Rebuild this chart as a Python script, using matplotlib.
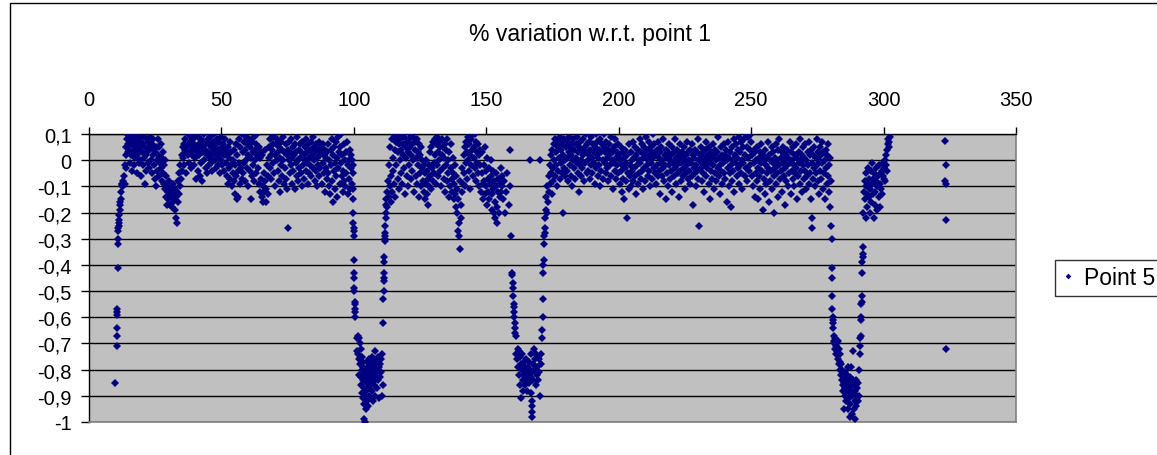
import numpy as np
import matplotlib
matplotlib.use("Agg")
from matplotlib import pyplot as plt
from matplotlib.patches import Rectangle

plt.rcParams['font.family'] = ['Liberation Sans', 'DejaVu Sans']

# ---- data (x, % variation) ----
dip1 = [(9.8,-0.85),(10.4,-0.71),(10.4,-0.67),(10.5,-0.64),(10.5,-0.59),(10.6,-0.58),(10.7,-0.57),(10.9,-0.41),
        (11.0,-0.32),(11.0,-0.30),(11.1,-0.27),(11.1,-0.26),(11.2,-0.25),(11.3,-0.24),(11.4,-0.23),(11.5,-0.21),
        (11.6,-0.19),(11.7,-0.17),(11.8,-0.16),(12.0,-0.15),(12.1,-0.12),(12.3,-0.10),(12.4,-0.09),(12.6,-0.09),
        (12.8,-0.08),(13.0,-0.10),(13.1,-0.09)]

band1 = [(13.3,-0.06),(13.5,-0.02),(13.6,-0.09),(13.8,0.02),(14.0,0.05),(14.1,-0.03),(14.3,0.08),(14.5,0.1),(14.6,0.06),(14.8,0.03),
    (15.0,0.09),(15.2,0.04),(15.3,-0.01),(15.5,0.07),(15.7,0.1),(15.9,0.02),(16.0,0.06),(16.2,-0.04),(16.4,0.08),(16.5,0.03),
    (16.7,0.09),(16.9,0.05),(17.0,-0.02),(17.2,0.07),(17.4,0.01),(17.6,0.1),(17.8,0.04),(18.0,-0.05),(18.1,0.06),(18.3,0.02),
    (18.5,0.08),(18.7,-0.01),(18.9,0.05),(19.0,0.09),(19.2,0.0),(19.4,0.04),(19.6,-0.06),(19.8,0.07),(20.0,0.03),(20.2,-0.02),
    (20.4,0.06),(20.6,0.09),(20.8,0.01),(21.0,-0.09),(21.2,0.05),(21.4,0.02),(21.6,-0.04),(21.8,0.08),(22.0,0.03),(22.2,-0.01),
    (22.4,0.07),(22.6,0.04),(22.8,-0.03),(23.0,0.09),(23.2,0.05),(23.4,0.0),(23.6,-0.05),(23.8,0.06),(24.0,0.02),(24.2,0.08),
    (24.4,-0.02),(24.6,0.04),(24.8,-0.07),
    (25.0,0.03),(25.2,-0.1),(25.4,0.05),(25.6,0.0),(25.8,-0.04),(26.0,0.08),(26.2,0.02),(26.4,-0.06),(26.6,0.05),(26.8,-0.01),
    (27.0,0.06),(27.2,-0.03),(27.4,0.01),(27.6,-0.08),(27.8,0.03),
    (28.0,-0.05),(28.2,-0.02),(28.4,-0.09),(28.6,0.0),(28.8,-0.11),(29.0,-0.06),(29.2,-0.14),(29.4,-0.17),(29.6,-0.1),(29.8,-0.12),
    (30.0,-0.15),(30.2,-0.08),(30.4,-0.13),(30.6,-0.17),(30.8,-0.11),(31.0,-0.14),(31.2,-0.18),(31.4,-0.12),(31.6,-0.16),(31.8,-0.09),
    (32.0,-0.13),(32.2,-0.15),(32.4,-0.11),(32.6,-0.19),(32.8,-0.14),(33.0,-0.22),(33.1,-0.24),(33.3,-0.12),(33.5,-0.16),(33.7,-0.08),
    (33.9,-0.13),(34.1,-0.05),(34.3,-0.1),(34.5,-0.02),(34.7,-0.07),
    (35.0,0.02),(35.2,-0.04),(35.4,0.05),(35.6,0.01),(35.8,0.06),(36.0,-0.02),(36.2,0.04),(36.4,0.08),(36.6,0.03),(36.8,-0.05),
    (37.0,0.05),(37.2,0.1),(37.4,0.02),(37.6,0.06),(37.8,-0.01),(38.0,0.07),(38.2,0.03),(38.4,0.09),(38.6,-0.03),(38.8,0.05),
    (39.0,0.02),(39.2,0.08),(39.4,0.04),(39.6,-0.02),(39.8,0.06),(40.0,0.1),(40.2,0.01),(40.4,-0.07),(40.6,0.05),(40.8,0.03),
    (41.0,0.09),(41.2,-0.04),(41.4,0.06),(41.6,0.02),(41.8,-0.06),(42.0,0.04),(42.2,0.08),(42.4,-0.01),(42.6,0.05),(42.8,-0.08),
    (43.0,0.03),(43.2,0.07),(43.4,0.0),(43.6,0.1),(43.8,0.04),(44.0,-0.03),(44.2,0.06),(44.4,0.02),(44.6,-0.05),(44.8,0.08),
    (45.0,0.03),(45.2,-0.02),(45.4,0.06),(45.6,0.01),(45.8,0.09),(46.0,-0.01),(46.2,0.05),(46.4,0.02),(46.6,-0.04),(46.8,0.07),
    (47.0,0.03),(47.2,0.1),(47.4,0.0),(47.6,0.05),(47.8,-0.03),(48.0,0.06),(48.2,0.02),(48.4,0.08),(48.6,-0.02),(48.8,0.04),
    (49.0,0.01),(49.2,0.07),(49.4,-0.05),(49.6,0.03),(49.8,0.09),(50.0,0.0),(50.2,0.05),(50.4,-0.02),(50.6,0.06),(50.8,0.02),
    (51.0,-0.04),(51.2,0.04),(51.4,0.08),(51.6,-0.01),(51.8,0.03),
    (52.0,-0.06),(52.2,0.02),(52.4,-0.09),(52.6,0.05),(52.8,-0.03),(53.0,0.01),(53.2,-0.07),(53.4,0.07),(53.6,-0.02),(53.8,0.03),
    (54.0,-0.1),(54.2,0.0),(54.4,-0.05),(54.6,0.04),(54.8,-0.08),(55.0,-0.13),(55.2,-0.02),(55.4,0.06),(55.6,-0.06),(55.8,-0.15),
    (56.0,0.02),(56.2,-0.04),(56.4,-0.14),(56.6,0.08),(56.8,-0.01),(57.0,-0.09),(57.2,0.05),(57.4,-0.03),(57.6,0.1),(57.8,-0.07),
    (58.0,0.03),(58.2,-0.05),(58.4,0.07),(58.6,-0.01),(58.8,0.04),(59.0,-0.08),(59.2,0.09),(59.4,0.0),(59.6,-0.03),(59.8,0.06),
    (60.0,-0.1),(60.2,0.02),(60.4,0.08),(60.6,-0.04),(60.8,0.05),(61.0,-0.15),(61.2,0.01),(61.4,0.07),(61.6,-0.06),(61.8,0.03),
    (62.0,-0.02),(62.2,0.09),(62.4,-0.08),(62.6,0.04),(62.8,0.0),(63.0,0.06),(63.2,-0.05),(63.4,0.02),(63.6,0.1),(63.8,-0.03),
    (64.0,0.05),(64.2,-0.09),(64.4,0.01),(64.6,-0.12),(64.8,0.03),(65.0,-0.07),(65.2,-0.14),(65.4,0.02),(65.6,-0.1),(65.8,-0.16),
    (66.0,-0.05),(66.2,-0.12),(66.4,0.04),(66.6,-0.08),(66.8,-0.16),(67.0,-0.11),(67.2,-0.02),(67.4,-0.13),(67.6,-0.06),(67.8,0.01),
    (68.0,0.05),(68.2,-0.03),(68.4,0.08),(68.6,-0.07),(68.8,0.02),(69.0,0.1),(69.2,0.04),(69.4,-0.01),(69.6,0.06),(69.8,-0.05),
    (70.0,0.09),(70.2,0.02),(70.4,-0.1),(70.6,0.06),(70.8,0.0),(71.0,0.08),(71.2,-0.04),(71.4,0.03),(71.6,-0.08),(71.8,0.05),
    (72.0,0.01),(72.2,-0.12),(72.4,0.07),(72.6,-0.02),(72.8,0.04),(73.0,-0.06),(73.2,0.09),(73.4,0.0),(73.6,-0.09),(73.8,0.03),
    (74.0,-0.03),(74.2,0.06),(74.4,-0.07),(74.6,0.02),(74.8,-0.11),(75.2,-0.26),
    (75.0,0.04),(75.4,0.0),(75.6,0.07),(75.8,-0.05),(76.0,0.03),(76.2,-0.02),(76.4,0.08),(76.6,-0.09),(76.8,0.01),(77.0,0.05),
    (77.2,-0.04),(77.4,0.02),(77.6,-0.11),(77.8,0.06),(78.0,-0.01),(78.2,0.03),(78.4,-0.06),(78.6,0.09),(78.8,0.0),(79.0,-0.08),
    (79.2,0.04),(79.4,-0.03),(79.6,0.06),(79.8,0.01),(80.0,-0.05),(80.2,0.03),(80.4,-0.1),(80.6,0.07),(80.8,-0.02),(81.0,0.02),
    (81.2,-0.07),(81.4,0.05),(81.6,0.0),(81.8,-0.04),(82.0,0.08),(82.2,-0.01),(82.4,0.03),(82.6,-0.09),(82.8,0.06),(83.0,0.01),
    (83.2,-0.05),(83.4,0.04),(83.6,-0.02),(83.8,0.07),(84.0,-0.06),(84.2,0.02),(84.4,0.09),(84.6,-0.03),(84.8,0.05),(85.0,0.0),
    (85.2,-0.08),(85.4,0.03),(85.6,-0.04),(85.8,0.06),(86.0,0.01),(86.2,-0.1),(86.4,0.04),(86.6,-0.02),(86.8,0.07),(87.0,-0.06),
    (87.2,0.02),(87.4,-0.03),(87.6,0.05),(87.8,-0.09),(88.0,0.03),(88.2,-0.01),(88.4,0.06),(88.6,-0.05),(88.8,0.02),(89.0,-0.12),
    (89.2,0.04),(89.4,-0.03),(89.6,0.01),(89.8,-0.07),
    (90.0,0.03),(90.2,-0.05),(90.4,0.06),(90.6,-0.1),(90.8,0.0),(91.0,-0.13),(91.2,0.04),(91.4,-0.02),(91.6,0.08),(91.8,-0.08),
    (92.0,0.02),(92.2,-0.16),(92.4,-0.04),(92.6,0.05),(92.8,-0.01),(93.0,-0.11),(93.2,0.07),(93.4,-0.06),(93.6,0.01),(93.8,-0.14),
    (94.0,0.09),(94.2,-0.03),(94.4,0.03),(94.6,-0.09),(94.8,0.05),(95.0,-0.01),(95.2,0.1),(95.4,-0.06),(95.6,0.02),(95.8,-0.12),
    (96.0,-0.04),(96.2,0.06),(96.4,-0.08),(96.6,0.0),(96.8,-0.1),(97.0,0.03),(97.2,-0.05),(97.4,0.07),(97.6,-0.02),(97.8,-0.13),
    (98.0,0.0),(98.2,-0.07),(98.4,0.04),(98.6,-0.11),(98.8,-0.03),(99.0,0.02),(99.2,-0.09),(99.4,0.0),(99.6,-0.05),(99.8,-0.02)]

drop2 = [(99.6,-0.11),(99.7,-0.15),(99.8,-0.2),(99.8,-0.24),(99.9,-0.26),(99.9,-0.27),(100.0,-0.29),(100.0,-0.38),
    (100.1,-0.43),(100.1,-0.45),(100.2,-0.49),(100.2,-0.5),(100.3,-0.54),(100.3,-0.55),(100.4,-0.57),(100.4,-0.58),(100.5,-0.6),
    (101.0,-0.68),(101.3,-0.73),(101.5,-0.67),(101.7,-0.74),(101.9,-0.68),(102.1,-0.76),(102.0,-0.82),(102.3,-0.7),(102.4,-0.78),(102.6,-0.83),
    (102.7,-0.72),(102.8,-0.86),(102.9,-0.75),(103.0,-0.8),(103.1,-0.89),(103.2,-0.82),(103.3,-0.77),(103.4,-0.91),(103.5,-0.84),(103.6,-0.79),
    (103.7,-0.93),(103.8,-0.87),(103.9,-0.82),(104.0,-0.99),(104.1,-0.9),(104.2,-0.84),(104.3,-1.0),(104.4,-0.95),(104.5,-0.81),(104.6,-0.88),
    (104.7,-0.83),(104.8,-0.92),(104.9,-0.77),(105.0,-0.85),(105.1,-0.8),(105.2,-0.94),(105.3,-0.83),(105.4,-0.79),(105.5,-0.87),(105.6,-0.82),
    (105.7,-0.76),(105.8,-0.9),(105.9,-0.84),(106.0,-0.8),(106.1,-0.86),(106.2,-0.77),(106.3,-0.83),(106.4,-0.91),(106.5,-0.79),(106.6,-0.85),
    (106.7,-0.82),(106.8,-0.75),(106.9,-0.88),(107.0,-0.8),(107.1,-0.84),(107.2,-0.92),(107.3,-0.78),(107.4,-0.82),(107.5,-0.86),(107.6,-0.76),
    (107.7,-0.81),(107.8,-0.9),(107.9,-0.84),(108.0,-0.79),(108.1,-0.73),(108.2,-0.83),(108.4,-0.77),(108.6,-0.87),(108.8,-0.81),(109.0,-0.75),
    (109.2,-0.84),(109.4,-0.79),(109.6,-0.91),(109.8,-0.78),(110.0,-0.83),(110.2,-0.76),(110.4,-0.81),(110.6,-0.9),(110.8,-0.74),(110.9,-0.86),
    (111.0,-0.62),(111.1,-0.53),(111.2,-0.5),(111.3,-0.46),(111.3,-0.45),(111.4,-0.43),(111.5,-0.39),(111.5,-0.37),(111.6,-0.31),
    (111.7,-0.3),(111.7,-0.29),(111.8,-0.28),(111.9,-0.25),(112.0,-0.22),(112.1,-0.2),(112.2,-0.17),(112.3,-0.15)]

band2 = [(112.5,-0.12),(112.7,-0.18),(112.9,-0.08),(113.1,-0.14),(113.3,-0.02),(113.5,-0.1),(113.7,0.05),(113.9,-0.16),(114.1,-0.06),(114.3,0.08),
    (114.5,-0.12),(114.7,0.01),(114.9,-0.04),(115.1,0.1),(115.3,-0.09),(115.5,0.04),(115.7,-0.14),(115.9,0.07),(116.1,-0.02),(116.3,0.09),
    (116.5,-0.07),(116.7,0.03),(116.9,0.06),(117.1,-0.11),(117.3,0.0),(117.5,0.08),(117.7,-0.05),(117.9,0.04),(118.1,0.1),(118.3,-0.09),
    (118.5,0.02),(118.7,0.06),(118.9,-0.03),(119.1,0.09),(119.3,-0.13),(119.5,0.05),(119.7,0.01),(119.9,-0.06),(120.1,0.07),(120.3,0.03),
    (120.5,-0.1),(120.7,0.08),(120.9,-0.02),(121.1,0.05),(121.3,0.1),(121.5,-0.07),(121.7,0.02),(121.9,0.06),(122.1,-0.04),(122.3,0.09),
    (122.5,0.0),(122.7,-0.12),(122.9,0.04),(123.1,0.07),(123.3,-0.06),(123.5,0.01),(123.7,0.08),(123.9,-0.09),(124.1,0.03),(124.3,-0.02),
    (124.5,0.06),(124.7,-0.14),(124.9,0.02),(125.1,-0.05),(125.3,0.05),(125.5,-0.1),(125.7,0.0),(125.9,-0.03),
    (126.1,-0.08),(126.3,-0.02),(126.5,-0.12),(126.7,-0.05),(126.9,-0.15),(127.1,0.0),(127.3,-0.09),(127.5,-0.04),(127.7,-0.13),(127.9,-0.07),
    (128.1,-0.17),(128.3,-0.02),(128.5,-0.1),(128.7,0.03),(128.9,-0.06),(129.1,-0.11),(129.3,0.05),(129.5,-0.03),(129.7,-0.08),(129.9,0.07),
    (130.1,-0.01),(130.3,-0.05),(130.5,0.08),(130.7,0.02),(130.9,-0.09),(131.1,0.06),(131.3,-0.02),(131.5,0.09),(131.7,0.03),(131.9,-0.06),
    (132.1,0.07),(132.3,0.0),(132.5,-0.04),(132.7,0.05),(132.9,-0.1),
    (133.1,0.02),(133.3,0.08),(133.5,-0.03),(133.7,0.05),(133.9,-0.07),(134.1,0.01),(134.3,0.06),(134.5,-0.12),(134.7,-0.02),(134.9,0.04),
    (135.1,-0.08),(135.3,0.08),(135.5,-0.05),(135.7,0.0),(135.9,-0.14),(136.1,0.03),(136.3,-0.1),(136.5,-0.03),(136.7,0.06),(136.9,-0.07),
    (137.1,-0.12),(137.3,0.01),(137.5,-0.05),(137.7,-0.15),(137.9,-0.09),(138.1,-0.02),(138.3,-0.13),(138.5,-0.18),(138.7,-0.06),(138.9,-0.11),
    (139.1,-0.2),(139.3,-0.15),(139.5,-0.27),(139.6,-0.24),(139.8,-0.29),(140.0,-0.08),(140.2,-0.34),(140.4,-0.17),(140.6,-0.22),(140.8,-0.12),
    (141.0,-0.03),(141.2,-0.09),(141.4,0.02),
    (141.6,-0.05),(141.8,0.05),(142.0,-0.1),(142.2,0.07),(142.4,-0.01),(142.6,0.03),(142.8,-0.07),(143.0,0.09),(143.2,0.0),(143.4,-0.04),
    (143.6,0.06),(143.8,-0.11),(144.0,0.02),(144.2,0.08),(144.4,-0.02),(144.6,0.04),(144.8,0.1),(145.0,-0.06),(145.2,0.05),(145.4,0.01),
    (145.6,0.1),(145.8,-0.03),(146.0,0.07),(146.2,-0.08),(146.4,0.03),(146.6,-0.01),(146.8,0.06),(147.0,-0.05),(147.2,0.02),(147.4,-0.1),
    (147.6,0.04),(147.8,-0.02),
    (148.0,-0.12),(148.2,-0.05),(148.4,0.03),(148.6,-0.09),(148.8,-0.15),(149.0,-0.02),(149.2,-0.08),(149.4,0.05),(149.6,-0.13),(149.8,-0.04),
    (150.0,-0.1),(150.2,-0.17),(150.4,0.01),(150.6,-0.07),(150.8,-0.12),(151.0,-0.03),(151.2,-0.15),(151.4,-0.09),(151.6,0.0),(151.8,-0.06),
    (152.0,-0.13),(152.2,-0.19),(152.4,-0.04),(152.6,-0.11),(152.8,-0.2),(153.0,-0.08),(153.2,-0.16),(153.4,-0.22),(153.6,-0.1),(153.8,-0.05),
    (154.0,-0.18),(154.2,-0.24),(154.4,-0.12),(154.6,-0.07),(154.8,-0.2),(155.0,-0.14),(155.2,-0.09),(155.4,-0.03),(155.6,-0.12),(155.8,-0.06),
    (156.0,-0.1),(156.4,-0.15),(156.8,-0.08),(157.2,-0.2),(157.6,-0.12),(158.0,-0.05),(158.4,-0.17),(158.8,0.04),(159.0,-0.1),(159.2,-0.29)]

drop3 = [(159.6,-0.43),(159.8,-0.44),(160.0,-0.47),(160.1,-0.49),(160.2,-0.52),(160.3,-0.55),(160.4,-0.56),(160.5,-0.58),
    (160.6,-0.6),(160.8,-0.62),(160.9,-0.64),(161.0,-0.66),(161.1,-0.67),
    (161.2,-0.74),(161.5,-0.76),(161.8,-0.72),(162.0,-0.79),(162.3,-0.73),(162.5,-0.82),(162.7,-0.75),(162.9,-0.86),(163.1,-0.78),(163.2,-0.91),
    (163.4,-0.8),(163.6,-0.74),(163.8,-0.84),(163.9,-0.88),(164.1,-0.77),(164.3,-0.82),(164.5,-0.86),(164.6,-0.79),(164.8,-0.83),(165.0,-0.76),
    (165.2,-0.81),(165.4,-0.88),(165.5,-0.84),(165.7,-0.79),(165.9,-0.82),(166.1,-0.77),(166.3,-0.85),(166.5,-0.8),(166.7,-0.74),(166.9,-0.83),
    (167.0,-0.89),(167.1,-0.92),(167.2,-0.94),(167.2,-0.96),(167.3,-0.98),(167.4,-0.81),(167.6,-0.78),(167.8,-0.84),(168.0,-0.72),(168.2,-0.8),
    (168.4,-0.76),(168.6,-0.86),(168.8,-0.74),(169.0,-0.82),(169.2,-0.79),(169.4,-0.75),(169.6,-0.84),(169.8,-0.76),(170.0,-0.81),(170.3,-0.9),
    (170.5,-0.78),(170.8,-0.74),(171.0,-0.68),
    (171.2,-0.65),(171.3,-0.6),(171.4,-0.53),(171.5,-0.43),(171.6,-0.4),(171.7,-0.38),(171.8,-0.32),(171.9,-0.29),(172.0,-0.28),
    (172.1,-0.26),(172.3,-0.22),(172.5,-0.19),(166.5,0.0),(170.1,0.0)]

band3 = [(172.7,-0.14),(172.9,-0.2),(173.1,-0.1),(173.3,-0.16),(173.5,-0.06),(173.7,-0.12),(173.9,-0.02),(174.1,-0.09),(174.3,0.02),(174.5,-0.05),
    (174.7,-0.13),(174.9,0.04),(175.1,-0.03),(175.3,-0.08),(175.5,0.06),(175.7,0.0),(175.9,-0.06),(176.1,0.08),(176.3,-0.02),(176.5,0.03),
    (176.7,-0.1),(176.9,0.05),(177.1,-0.04),(177.3,0.07),(177.5,0.01),(177.7,-0.07),(177.9,0.09),(178.1,-0.01),(178.3,0.04),(178.5,-0.05),
    (178.7,0.06),(178.9,-0.2),(179.1,0.02),(179.3,-0.03),(179.5,0.08),(179.7,0.0),(179.9,-0.06),(180.1,0.05),
    (180.3,0.01),(180.5,-0.04),(180.7,0.07),(180.9,-0.08),(181.1,0.03),(181.3,0.09),(181.5,-0.02),(181.7,0.05),(181.9,-0.06),(182.1,0.02),
    (182.3,-0.1),(182.5,0.06),(182.7,0.0),(182.9,0.08),(183.1,-0.03),(183.3,0.04),(183.5,-0.07),(183.7,0.01),(183.9,0.06),(184.1,-0.01),
    (184.3,0.09),(184.5,-0.05),(184.7,0.03),(184.9,-0.12),(185.1,0.05),(185.3,-0.02),(185.5,0.07),(185.7,0.0),(185.9,-0.06),(186.1,0.04),
    (186.3,-0.03),(186.5,0.08),(186.7,0.02),(186.9,-0.08),(187.1,0.05),(187.3,-0.01),(187.5,0.1),(187.7,0.03),(187.9,-0.05),(188.1,0.06),
    (188.3,0.0),(188.5,-0.04),(188.7,0.07),(188.9,0.02),(189.1,-0.07),(189.3,0.04),(189.5,-0.02),(189.7,0.09),(189.9,0.01),(190.1,-0.05),
    (190.3,0.06),(190.5,-0.01),(190.7,0.03),(190.9,-0.09),(191.1,0.05),(191.3,0.1),(191.5,-0.03),(191.7,0.02),(191.9,0.07),(192.1,-0.06),
    (192.3,0.01),(192.5,0.04),(192.7,-0.02),(192.9,0.08),(193.1,-0.1),(193.3,0.03),(193.5,-0.04),(193.7,0.06),(193.9,0.0),(194.1,-0.07),
    (194.3,0.05),(194.5,0.1),(194.7,-0.01),(194.9,0.03),(195.1,-0.05),(195.3,0.07),(195.5,0.01),(195.7,-0.03),(195.9,0.04),(196.1,-0.08),
    (196.3,0.02),(196.5,0.06),(196.7,-0.02),(196.9,0.09),(197.1,-0.06),(197.3,0.0),(197.5,0.04),(197.7,-0.11),(197.9,0.03),(198.1,-0.01),
    (198.3,0.05),(198.5,-0.04),(198.7,0.08),(198.9,0.01),(199.1,-0.07),(199.3,0.03),(199.5,-0.02),(199.7,0.06),(199.9,-0.05),
    (200.1,0.02),(200.3,-0.09),(200.5,0.0),(200.7,-0.04),(200.9,0.05),(201.1,-0.12),(201.3,-0.02),(201.5,0.03),(201.7,-0.07),(201.9,0.01),
    (202.1,-0.15),(202.3,-0.03),(202.5,0.04),(202.7,-0.08),(202.9,-0.01),(203.1,-0.22),(203.3,0.02),(203.5,-0.05),(203.7,-0.11),(203.9,0.06),
    (204.1,-0.02),(204.3,-0.06),(204.5,0.03),(204.7,-0.1),(204.9,0.0),(205.1,-0.04),(205.3,0.07),(205.5,-0.08),(205.7,0.01),(205.9,-0.03),
    (206.1,0.05),(206.3,-0.06),(206.5,-0.13),(206.7,0.02),(206.9,-0.02),(207.1,0.04),(207.3,-0.09),(207.5,0.0),(207.7,-0.05),(207.9,0.08),
    (208.1,-0.01),(208.3,-0.07),(208.5,0.03),(208.7,-0.04),(208.9,0.06),(209.1,-0.11),(209.3,0.01),(209.5,-0.03),(209.7,0.05),(209.9,-0.08),
    (210.1,0.02),(210.3,0.09),(210.5,-0.02),(210.7,0.04),(210.9,-0.06),(211.1,0.0),(211.3,0.07),(211.5,-0.04),(211.7,0.02),(211.9,-0.1),
    (212.1,0.05),(212.3,-0.01),(212.5,0.03),(212.7,-0.07),(212.9,0.1),(213.1,0.01),(213.3,-0.03),(213.5,0.06),(213.7,-0.05),(213.9,0.02),
    (214.1,-0.09),(214.3,0.04),(214.5,-0.02),(214.7,0.07),(214.9,-0.06),
    (215.1,0.01),(215.3,-0.04),(215.5,0.03),(215.7,-0.13),(215.9,-0.01),(216.1,0.05),(216.3,-0.06),(216.5,0.0),(216.7,-0.03),(216.9,0.08),
    (217.1,-0.08),(217.3,0.02),(217.5,-0.02),(217.7,-0.15),(217.9,0.04),(218.1,-0.05),(218.3,0.01),(218.5,-0.1),(218.7,0.03),(218.9,-0.02),
    (219.1,0.06),(219.3,-0.07),(219.5,0.0),(219.7,-0.04),(219.9,0.02),(220.1,-0.12),(220.3,0.05),(220.5,-0.01),(220.7,-0.06),(220.9,0.03),
    (221.1,-0.03),(221.3,0.08),(221.5,-0.09),(221.7,0.01),(221.9,-0.02),(222.1,0.04),(222.3,-0.05),(222.5,0.0),(222.7,-0.14),(222.9,0.02),
    (223.1,-0.04),(223.3,0.06),(223.5,-0.08),(223.7,-0.01),(223.9,0.03),(224.1,-0.06),(224.3,0.01),(224.5,-0.03),(224.7,0.05),(224.9,-0.11),
    (225.1,0.0),(225.3,-0.05),(225.5,0.02),(225.7,-0.02),(225.9,0.07),(226.1,-0.07),(226.3,0.03),(226.5,-0.04),(226.7,0.0),(226.9,-0.09),
    (227.1,0.04),(227.3,-0.01),(227.5,0.06),(227.7,-0.06),(227.9,0.02),(228.1,-0.17),(228.3,-0.03),(228.5,0.01),(228.7,-0.05),(228.9,0.04),
    (229.1,-0.02),(229.3,-0.1),(229.5,0.03),(229.7,-0.04),(229.9,0.08),(230.1,-0.07),(230.3,0.0),(230.5,-0.25),(230.7,0.02),(230.9,-0.03),
    (231.1,0.05),(231.3,-0.08),(231.5,-0.01),(231.7,0.03),(231.9,-0.05),(232.1,0.01),(232.3,-0.12),(232.5,0.04),(232.7,-0.02),(232.9,0.07),
    (233.1,-0.06),(233.3,0.0),(233.5,-0.03),(233.7,0.02),(233.9,-0.09),(234.1,0.05),(234.3,-0.01),(234.5,-0.15),(234.7,0.03),(234.9,-0.04),
    (235.1,0.01),(235.3,-0.07),(235.5,0.06),(235.7,-0.02),(235.9,0.02),(236.1,-0.11),(236.3,-0.05),(236.5,0.04),(236.7,0.0),(236.9,-0.08),
    (237.1,0.03),(237.3,-0.03),(237.5,0.09),(237.7,-0.06),(237.9,0.01),(238.1,-0.13),(238.3,-0.02),(238.5,0.05),(238.7,-0.04),(238.9,0.02),
    (239.1,-0.09),(239.3,0.0),(239.5,-0.01),(239.7,0.06),(239.9,-0.05),
    (240.1,0.02),(240.3,-0.07),(240.5,0.04),(240.7,-0.16),(240.9,0.0),(241.1,-0.03),(241.3,0.07),(241.5,-0.1),(241.7,0.01),(241.9,-0.05),
    (242.1,0.03),(242.3,-0.18),(242.5,-0.02),(242.7,0.05),(242.9,-0.08),(243.1,0.0),(243.3,-0.04),(243.5,0.08),(243.7,-0.12),(243.9,0.02),
    (244.1,-0.01),(244.3,0.06),(244.5,-0.06),(244.7,0.01),(244.9,-0.03),(245.1,0.04),(245.3,-0.09),(245.5,0.09),(245.7,-0.02),(245.9,0.03),
    (246.1,-0.05),(246.3,0.07),(246.5,0.0),(246.7,-0.11),(246.9,0.05),(247.1,-0.01),(247.3,0.08),(247.5,-0.06),(247.7,0.02),(247.9,0.1),
    (248.1,-0.03),(248.3,0.05),(248.5,-0.08),(248.7,0.09),(248.9,0.01),(249.1,-0.04),(249.3,0.1),(249.5,0.04),(249.7,-0.02),(249.9,0.1),
    (250.1,0.07),(250.3,-0.06),(250.5,0.02),(250.7,-0.1),(250.9,0.04),(251.1,-0.01),(251.3,-0.14),(251.5,0.03),(251.7,-0.05),(251.9,0.0),
    (252.1,-0.08),(252.3,0.05),(252.5,-0.03),(252.7,-0.15),(252.9,0.01),(253.1,-0.06),(253.3,0.03),(253.5,-0.11),(253.7,-0.01),(253.9,0.06),
    (254.1,-0.04),(254.3,-0.19),(254.5,0.02),(254.7,-0.07),(254.9,0.0),(255.1,-0.13),(255.3,0.04),(255.5,-0.02),(255.7,-0.09),(255.9,0.01),
    (256.1,-0.05),(256.3,0.07),(256.5,-0.03),(256.7,-0.16),(256.9,0.02),(257.1,-0.08),(257.3,0.0),(257.5,-0.04),(257.7,0.05),(257.9,-0.11),
    (258.1,-0.01),(258.3,0.03),(258.5,-0.06),(258.7,-0.2),(258.9,0.01),(259.1,-0.03),(259.3,0.06),(259.5,-0.09),(259.7,0.0),(259.9,-0.05),
    (260.1,0.04),(260.3,-0.14),(260.5,-0.02),(260.7,0.08),(260.9,-0.07),(261.1,0.01),(261.3,-0.04),(261.5,0.03),(261.7,-0.12),(261.9,-0.01),
    (262.1,0.05),(262.3,-0.06),(262.5,0.0),(262.7,-0.03),(262.9,-0.17),(263.1,0.02),(263.3,-0.08),(263.5,0.04),(263.7,-0.02),(263.9,-0.1),
    (264.1,0.01),(264.3,-0.05),(264.5,0.07),(264.7,-0.01),(264.9,-0.13),(265.1,0.03),(265.3,-0.04),(265.5,0.0),(265.7,-0.07),(265.9,0.05),
    (266.1,-0.02),(266.3,-0.1),(266.5,0.02),(266.7,-0.05),(266.9,0.06),(267.1,-0.03),(267.3,-0.15),(267.5,0.01),(267.7,-0.06),(267.9,0.03),
    (268.1,-0.01),(268.3,-0.09),(268.5,0.08),(268.7,-0.04),(268.9,0.0),(269.1,-0.12),(269.3,0.02),(269.5,-0.02),(269.7,0.05),(269.9,-0.07),
    (270.1,0.01),(270.3,-0.04),(270.5,0.06),(270.7,-0.11),(270.9,0.0),(271.1,-0.06),(271.3,0.03),(271.5,-0.02),(271.7,0.07),(271.9,-0.09),
    (272.1,0.02),(272.3,-0.05),(272.5,-0.15),(272.7,0.04),(272.9,-0.01),(273.0,-0.22),(273.1,-0.26),(273.3,-0.07),(273.5,0.02),(273.7,-0.03),
    (273.9,0.05),(274.1,-0.1),(274.3,0.01),(274.5,-0.05),(274.7,0.08),(274.9,-0.02),(275.1,0.03),(275.3,-0.08),(275.5,0.0),(275.7,-0.13),
    (275.9,0.05),(276.1,-0.04),(276.3,0.02),(276.5,-0.07),(276.7,0.07),(276.9,-0.01),(277.1,-0.11),(277.3,0.03),(277.5,-0.05),(277.7,0.0),
    (277.9,-0.15),(278.1,0.04),(278.3,-0.03),(278.5,-0.09),(278.7,0.02),(278.9,-0.06),(279.1,0.06),(279.3,-0.02),(279.5,-0.12),(279.7,0.01),
    (279.9,-0.18),(280.1,-0.25),(280.2,-0.08)]

drop4 = [(280.4,-0.3),(280.5,-0.41),(280.5,-0.45),(280.6,-0.52),(280.7,-0.57),(280.8,-0.6),(280.9,-0.61),(281.0,-0.62),
    (281.0,-0.64),(281.1,-0.67),(281.2,-0.69),(281.3,-0.7),
    (281.6,-0.72),(281.8,-0.68),(282.0,-0.71),(282.2,-0.74),(282.3,-0.7),(282.5,-0.73),(282.7,-0.69),(282.9,-0.76),(283.0,-0.72),(283.2,-0.78),
    (283.4,-0.74),(283.5,-0.77),(283.7,-0.8),(283.9,-0.82),(284.0,-0.78),(284.2,-0.84),(284.3,-0.8),(284.5,-0.86),(284.6,-0.82),(284.8,-0.88),
    (284.9,-0.95),(285.0,-0.83),(285.2,-0.85),(285.3,-0.9),(285.5,-0.81),(285.6,-0.87),(285.8,-0.84),(285.9,-0.92),(286.1,-0.86),(286.2,-0.82),
    (286.4,-0.89),(286.5,-0.95),(286.6,-0.79),(286.8,-0.85),(286.9,-0.91),(287.1,-0.87),(287.2,-0.98),(287.3,-0.83),(287.5,-0.93),(287.6,-0.88),
    (287.8,-0.79),(287.9,-0.86),(288.1,-0.97),(288.2,-0.9),(288.4,-0.84),(288.5,-0.73),(288.6,-0.89),(288.8,-0.95),(288.9,-0.86),(289.1,-0.92),
    (289.2,-0.99),(289.4,-0.88),(289.5,-0.84),(289.7,-0.94),(289.8,-0.9),(290.0,-0.87),(290.2,-0.92),(290.4,-0.85),(290.6,-0.9),(290.8,-0.8),
    (291.0,-0.74),(291.1,-0.71),(291.2,-0.68),(291.3,-0.67),(291.4,-0.61),(291.5,-0.6),(291.6,-0.55),(291.7,-0.54),(291.8,-0.52),
    (291.9,-0.43),(292.0,-0.39),(292.1,-0.37),(292.2,-0.36),(292.3,-0.33)]

band4 = [(292.4,-0.2),(292.6,-0.12),(292.8,-0.08),(293.0,-0.15),(293.2,-0.1),(293.4,-0.22),(293.5,-0.05),(293.7,-0.13),(293.9,-0.18),(294.0,-0.09),
    (294.2,-0.03),(294.4,-0.14),(294.5,-0.07),(294.7,-0.2),(294.9,-0.11),(295.1,-0.04),(295.3,-0.16),(295.5,-0.09),(295.7,-0.01),(295.9,-0.13),
    (296.1,-0.07),(296.3,-0.22),(296.5,-0.05),(296.7,-0.12),(296.9,-0.17),(297.1,-0.08),(297.3,-0.03),(297.5,-0.19),(297.7,-0.1),(297.9,-0.06),
    (298.1,-0.14),(298.3,-0.02),(298.5,-0.09),(298.7,-0.18),(298.9,-0.05),(299.1,-0.11),(299.3,-0.04),(299.5,-0.13),(299.7,-0.06),(299.9,-0.01),
    (300.1,-0.07),(300.3,-0.03),(300.5,0.0),(300.7,-0.08),(300.9,-0.02),(301.0,0.02),(301.2,0.04),(301.3,-0.04),(301.5,0.06),(301.7,0.08),
    (301.9,0.07),(302.1,0.05),(302.3,0.09)]

tail = [(323.2,0.075),(323.4,-0.02),(323.3,-0.08),(323.5,-0.09),(323.5,-0.23),(323.6,-0.72)]

x_ticks = [0, 50, 100, 150, 200, 250, 300, 350]
y_ticks = [0.1, 0, -0.1, -0.2, -0.3, -0.4, -0.5, -0.6, -0.7, -0.8, -0.9, -1]
y_labels = ['0,1', '0', '-0,1', '-0,2', '-0,3', '-0,4', '-0,5', '-0,6', '-0,7', '-0,8', '-0,9', '-1']

navy = '#000080'
pts = dip1 + band1 + drop2 + band2 + drop3 + band3 + drop4 + band4 + tail
xs = np.array([p[0] for p in pts])
ys = np.array([p[1] for p in pts])

fig = plt.figure(figsize=(11.57, 4.56), dpi=100)
ax = fig.add_axes([89 / 1157, 1 - 423 / 456, 927 / 1157, 288 / 456])
ax.set_facecolor('#C0C0C0')

ax.plot(xs, ys, linestyle='none', marker='D', markersize=3.6, markeredgewidth=0,
        color=navy, label='Point 5', zorder=3)

ax.set_xlim(0, 350)
ax.set_ylim(-1, 0.1)
ax.set_xticks(x_ticks)
ax.set_yticks(y_ticks)
ax.set_yticklabels(y_labels)
ax.xaxis.tick_top()
ax.tick_params(axis='x', which='major', direction='out', length=5, width=1, pad=13, labelsize=14.5, colors='black')
ax.tick_params(axis='y', which='major', direction='out', length=5.5, width=1, pad=7, labelsize=14.5, colors='black')

ax.set_axisbelow(True)
ax.yaxis.grid(True, color='black', linewidth=1.0)
ax.xaxis.grid(False)

for side in ['left', 'top']:
    ax.spines[side].set_color('black')
    ax.spines[side].set_linewidth(1.0)
for side in ['right', 'bottom']:
    ax.spines[side].set_color('#808080')
    ax.spines[side].set_linewidth(1.2)

fig.text(590 / 1157, 1 - 34 / 456, '% variation w.r.t. point 1', ha='center', va='center', fontsize=16.5)

# chart-area border (runs off the right and bottom edges)
fig.patches.append(Rectangle((10 / 1157, -0.1), 1.2, 1 - 4 / 456 + 0.1, transform=fig.transFigure,
                             fill=False, edgecolor='black', linewidth=1.0))

leg = ax.legend(loc='center left', bbox_to_anchor=(1055 / 1157, 1 - 279 / 456),
                bbox_transform=fig.transFigure, frameon=True, fancybox=False, fontsize=16.5,
                handlelength=0.5, handletextpad=0.45, borderpad=0.3, borderaxespad=0, markerscale=0.8)
leg.get_frame().set_edgecolor('black')
leg.get_frame().set_linewidth(1.0)

fig.savefig('out.png', dpi=100)
